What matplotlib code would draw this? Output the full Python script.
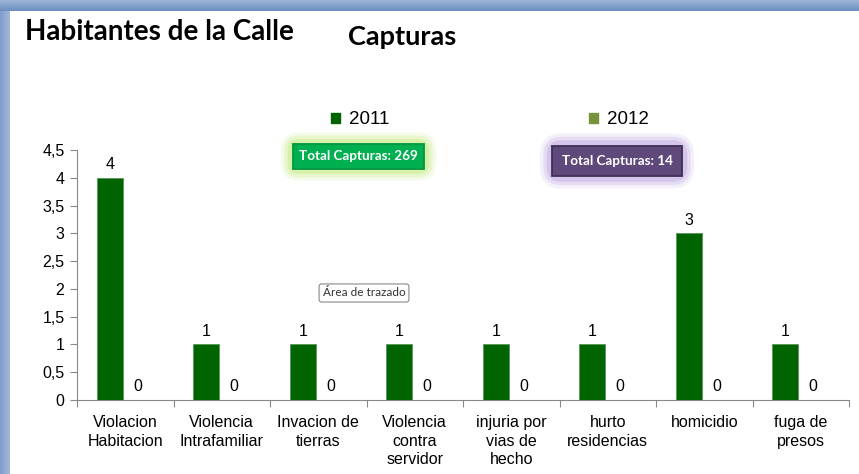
import numpy as np
import matplotlib.pyplot as plt
from matplotlib.colors import LinearSegmentedColormap
from matplotlib.patches import Patch

# === data ===
categorias = ["Violacion\nHabitacion", "Violencia\nIntrafamiliar", "Invacion de\ntierras",
              "Violencia\ncontra\nservidor", "injuria por\nvias de\nhecho",
              "hurto\nresidencias", "homicidio", "fuga de\npresos"]
capturas_2011 = [4, 1, 1, 1, 1, 1, 3, 1]
capturas_2012 = [0, 0, 0, 0, 0, 0, 0, 0]
total_2011 = 269
total_2012 = 14
y_ticks = [0, 0.5, 1, 1.5, 2, 2.5, 3, 3.5, 4, 4.5]

c2011 = '#006400'
c2012 = '#77933C'

plt.rcParams['font.family'] = ['Liberation Sans', 'DejaVu Sans']

fig = plt.figure(figsize=(8.59, 4.74), dpi=100)
W, H = 859, 474

# blue frame (top and left bands)
bg = fig.add_axes([0, 0, 1, 1])
bg.axis('off')
bg.imshow(np.linspace(0, 1, 50).reshape(-1, 1), extent=[0, W, 11, 0],
          cmap=LinearSegmentedColormap.from_list('b', ['#9db6d8', '#6b8dbf']),
          aspect='auto', origin='upper')
bg.imshow(np.linspace(0, 1, 50).reshape(1, -1), extent=[0, 10, H, 11],
          cmap=LinearSegmentedColormap.from_list('b2', ['#7f9ccb', '#a3b8d8']), aspect='auto')
bg.set_xlim(0, W)
bg.set_ylim(H, 0)

# === main axes ===
ax = fig.add_axes([77 / W, (H - 400) / H, (849 - 77) / W, 250 / H])
ax.patch.set_visible(False)
x = np.arange(len(categorias))
w = 0.27
ax.bar(x - 0.16, capturas_2011, w, color=c2011, edgecolor='#5d9a5d', linewidth=0.7, zorder=3)
ax.bar(x + 0.13, capturas_2012, w, color=c2012, edgecolor=c2012, linewidth=0.7, zorder=3)
for xi, v in zip(x - 0.16, capturas_2011):
    ax.text(xi, v + 0.1, str(v), ha='center', va='bottom', fontsize=11.5)
for xi, v in zip(x + 0.13, capturas_2012):
    ax.text(xi, v + 0.1, str(v), ha='center', va='bottom', fontsize=11.5)

ax.set_xlim(-0.5, len(categorias) - 0.5)
ax.set_ylim(0, 4.5)
ax.set_yticks(y_ticks)
ax.set_yticklabels([('%g' % t).replace('.', ',') for t in y_ticks], fontsize=11.5)
ax.set_xticks(np.arange(-0.5, len(categorias)), labels=[''] * (len(categorias) + 1))
ax.set_xticks(x, labels=categorias, minor=True)
ax.tick_params(axis='x', which='minor', length=0, pad=11, labelsize=11.5)
ax.tick_params(axis='x', which='major', length=5, direction='out', color='#888888')
ax.tick_params(axis='y', length=5, direction='out', color='#888888', pad=4)
for lab in ax.get_xticklabels(minor=True):
    lab.set_linespacing(1.27)
for s in ['top', 'right']:
    ax.spines[s].set_visible(False)
for s in ['left', 'bottom']:
    ax.spines[s].set_color('#888888')

# === legend ===
fig.legend(handles=[Patch(color=c2011, label='2011'), Patch(color=c2012, label='2012')],
           loc='center', bbox_to_anchor=(490 / W, 1 - 120 / H), ncol=2, frameon=False,
           fontsize=13.5, handlelength=0.5, handleheight=0.5, handletextpad=0.5, columnspacing=10.6)

# === titles ===
fig.text(25 / W, 1 - 32 / H, 'Habitantes de la Calle', fontsize=20, fontweight='bold',
         family=['Lato', 'DejaVu Sans'], va='center', ha='left')
fig.text(402 / W, 1 - 37 / H, 'Capturas', fontsize=19.5, fontweight='bold',
         family=['Lato', 'DejaVu Sans'], va='center', ha='center')

# === total boxes with glow ===
def caja(xc, yc, texto, color, borde, glow, pad):
    for gp, a in [(pad + 0.9, 0.2), (pad + 0.65, 0.35), (pad + 0.4, 0.6)]:
        fig.text(xc / W, 1 - yc / H, texto, fontsize=9.7, fontweight='bold', color='none',
                 family=['Lato', 'DejaVu Sans'], ha='center', va='center',
                 bbox=dict(boxstyle='round,pad=%g' % gp, fc=glow, ec='none', alpha=a))
    fig.text(xc / W, 1 - yc / H, texto, fontsize=9.7, fontweight='bold', color='white',
             family=['Lato', 'DejaVu Sans'], ha='center', va='center',
             bbox=dict(boxstyle='square,pad=%g' % pad, fc=color, ec=borde, lw=1.3))

caja(358.5, 156.5, 'Total Capturas: %d' % total_2011, '#00B050', '#00963f', '#cdee96', 0.45)
caja(617, 161, 'Total Capturas: %d' % total_2012, '#5F497A', '#3f2f55', '#c9b8e6', 0.7)

# tooltip
fig.text(364 / W, 1 - 293 / H, 'Área de trazado', fontsize=8.5, color='#333333',
         family=['Lato', 'DejaVu Sans'], ha='center', va='center',
         bbox=dict(boxstyle='round,pad=0.3,rounding_size=0.2', fc='white', ec='#888888', lw=0.8))

fig.savefig('out.png', dpi=100)
